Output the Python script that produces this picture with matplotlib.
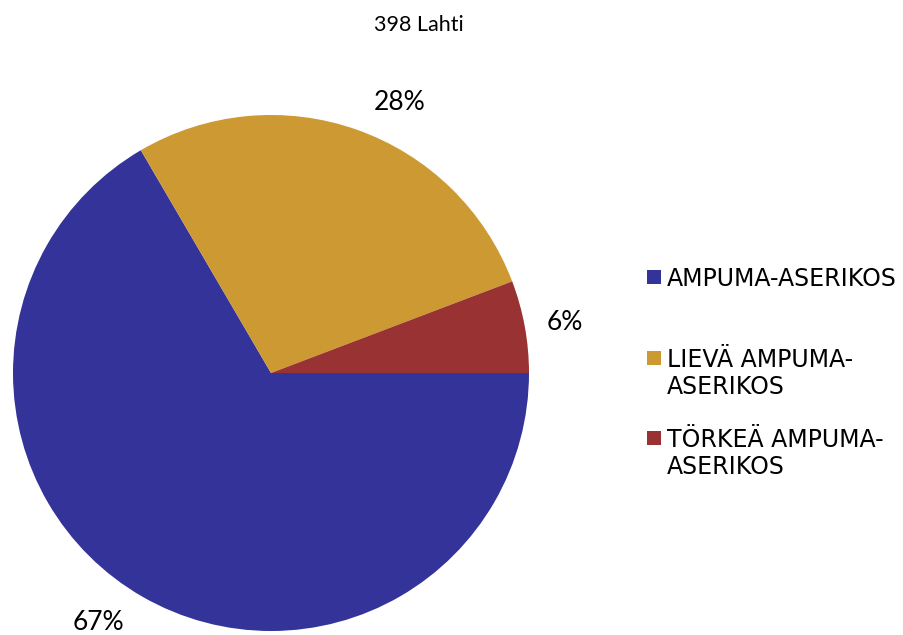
import matplotlib.pyplot as plt
from matplotlib.patches import Rectangle

# data
title = "398 Lahti"
labels = ["AMPUMA-ASERIKOS", "LIEVÄ AMPUMA-\nASERIKOS", "TÖRKEÄ AMPUMA-\nASERIKOS"]
counts = [265, 110, 23]
colors = ["#333399", "#CC9933", "#993333"]

W, H = 904, 635
fig = plt.figure(figsize=(W / 100, H / 100), dpi=100)

# pie centred at (271, 373) px, radius 258 px
cx, cy, r = 271, 373, 258
ax = fig.add_axes([(cx - r) / W, (H - cy - r) / H, 2 * r / W, 2 * r / H])
wedges, texts, autotexts = ax.pie(
    counts, colors=colors, startangle=0, counterclock=False,
    autopct=lambda p: f"{p:.0f}%", pctdistance=1.17, radius=1,
    textprops=dict(fontsize=19, family="Lato", color="black"),
)
ax.set_xlim(-1, 1)
ax.set_ylim(-1, 1)
ax.set_aspect("equal")
ax.axis("off")

# excel-style label placement (pixel centres of the labels)
label_px = [(98, 622), (400, 102), (565, 323)]
for t, (px, py) in zip(autotexts, label_px):
    t.set_position(((px - cx) / r, (cy - py) / r))
    t.set_clip_on(False)

fig.text(419 / W, 1 - 25 / H, title, ha="center", va="center",
         fontsize=15.5, family="Lato")

# legend drawn by hand to mimic spacing
tops = [267, 348, 428]
for lab, col, top in zip(labels, colors, tops):
    fig.patches.append(Rectangle((647 / W, 1 - (top + 17) / H), 14 / W, 14 / H,
                                 transform=fig.transFigure, facecolor=col,
                                 edgecolor="none"))
    fig.text(667 / W, 1 - top / H, lab, ha="left", va="top",
             fontsize=17, family="DejaVu Sans", linespacing=1.15)

fig.savefig("out.png", dpi=100)
